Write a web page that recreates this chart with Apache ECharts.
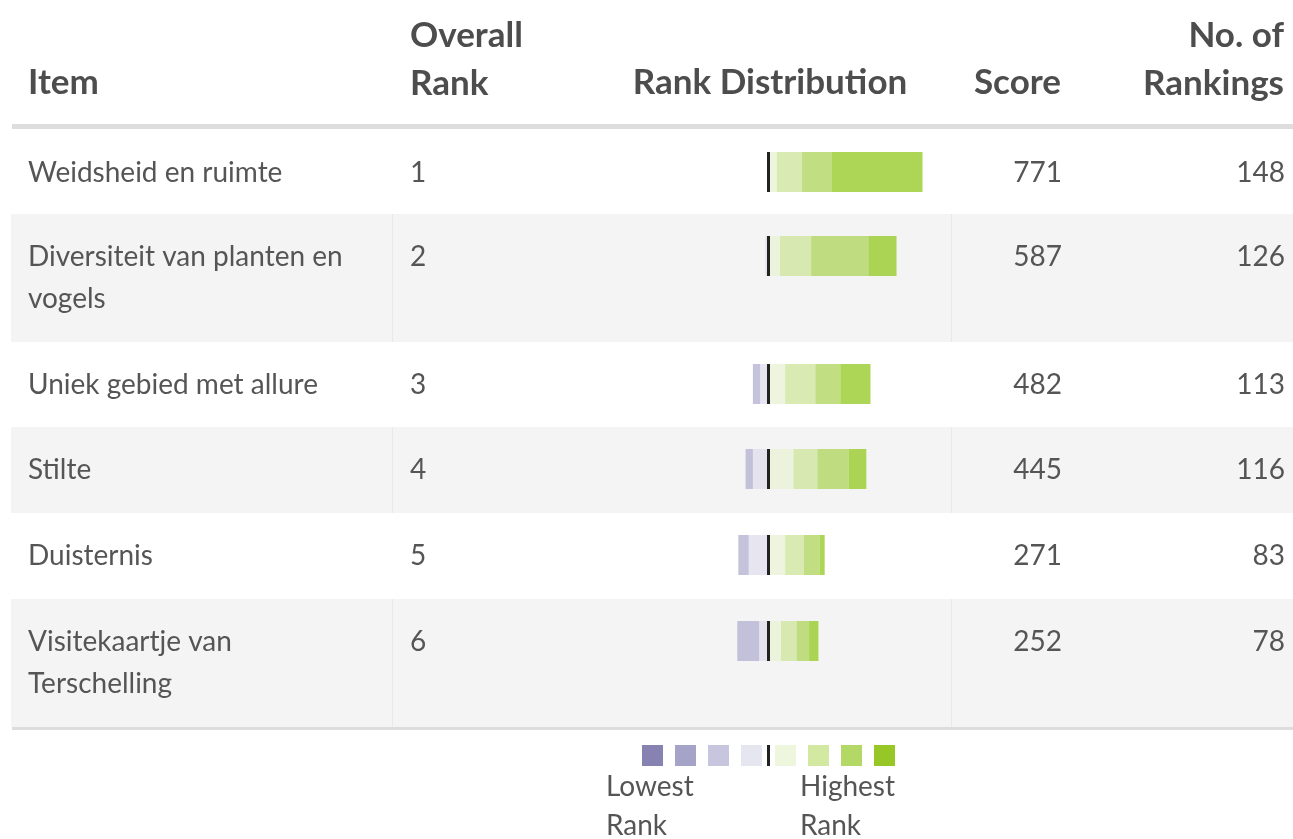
<!DOCTYPE html>
<html>
<head>
<meta charset="utf-8">
<script src="https://cdn.jsdelivr.net/npm/echarts@6/dist/echarts.min.js"></script>
<style>
  html, body { margin: 0; padding: 0; background: #fff; }
  #chart { width: 1293px; height: 839px; }
</style>
</head>
<body>
<div id="chart"></div>
<script>
// table data
const items = ['Weidsheid en ruimte', 'Diversiteit van planten en\nvogels', 'Uniek gebied met allure', 'Stilte', 'Duisternis', 'Visitekaartje van\nTerschelling']
const overallRank = [1, 2, 3, 4, 5, 6]
const scores = [771, 587, 482, 445, 271, 252]
const rankings = [148, 126, 113, 116, 83, 78]

// number of rankings per rank level (lowest -> highest)
const lowest1 = [0, 0, 0, 0, 0, 0]
const lowest2 = [0, 0, 0, 0, 0, 0]
const lowest3 = [0, 0, 7, 7, 10, 21]
const lowest4 = [0, 3, 8, 15, 19, 9]
const highest4 = [8, 11, 16, 24, 16, 12]
const highest3 = [24, 30, 29, 23, 18, 15]
const highest2 = [29, 55, 24, 30, 15, 12]
const highest1 = [87, 27, 29, 17, 5, 9]

const levels = [lowest1, lowest2, lowest3, lowest4, highest4, highest3, highest2, highest1]
const legendColors = ['#8683b3', '#a5a3c7', '#c8c6de', '#e6e6f1', '#eef6de', '#d3e8a0', '#b3d866', '#97c726']
const barColors = ['#8683b3', '#a5a3c7', '#b6b4d3', '#e0dfec', '#e8f2d7', '#cfe59f', '#b3d664', '#9acc2c']

// layout
const rowTop = [130, 214, 342, 427, 513, 599]
const rowHeight = [84, 128, 85, 86, 86, 128]
const textColor = '#555'
const font = 'Lato'

const grids = []
const xAxes = []
const yAxes = []
const series = []
const graphics = []

// row backgrounds
rowTop.forEach((top, r) => {
  if (r % 2 === 1) {
    graphics.push({ type: 'rect', z: 0, shape: { x: 11, y: top, width: 1282, height: rowHeight[r] }, style: { fill: '#f4f4f4' } })
    graphics.push({ type: 'rect', z: 1, shape: { x: 392, y: top, width: 1, height: rowHeight[r] }, style: { fill: '#e9e9e9' } })
    graphics.push({ type: 'rect', z: 1, shape: { x: 951, y: top, width: 1, height: rowHeight[r] }, style: { fill: '#e9e9e9' } })
  }
})
graphics.push({ type: 'rect', z: 1, shape: { x: 12, y: 124, width: 1281, height: 5 }, style: { fill: '#dddddd' } })
graphics.push({ type: 'rect', z: 1, shape: { x: 12, y: 727, width: 1281, height: 3 }, style: { fill: '#dddddd' } })

// header
const headStyle = { font: 'bold 35px ' + font, fill: '#4d4d4d', lineHeight: 48 }
graphics.push({ type: 'text', z: 10, style: Object.assign({ text: 'Item', x: 28, y: 83, textAlign: 'left', textVerticalAlign: 'middle' }, headStyle) })
graphics.push({ type: 'text', z: 10, style: Object.assign({ text: 'Overall\nRank', x: 410, y: 60, textAlign: 'left', textVerticalAlign: 'middle' }, headStyle) })
graphics.push({ type: 'text', z: 10, style: Object.assign({ text: 'Rank Distribution', x: 770, y: 83, textAlign: 'center', textVerticalAlign: 'middle' }, headStyle) })
graphics.push({ type: 'text', z: 10, style: Object.assign({ text: 'Score', x: 1061, y: 83, textAlign: 'right', textVerticalAlign: 'middle' }, headStyle) })
graphics.push({ type: 'text', z: 10, style: Object.assign({ text: 'No. of\nRankings', x: 1284, y: 60, textAlign: 'right', textVerticalAlign: 'middle' }, headStyle) })

// body text
const cellStyle = { font: '28px ' + font, fill: textColor, lineHeight: 42, textVerticalAlign: 'top' }
items.forEach((name, r) => {
  const y = rowTop[r] + 22
  graphics.push({ type: 'text', z: 10, style: Object.assign({ text: name, x: 28, y: y, textAlign: 'left' }, cellStyle) })
  graphics.push({ type: 'text', z: 10, style: Object.assign({ text: String(overallRank[r]), x: 410, y: y, textAlign: 'left' }, cellStyle) })
  graphics.push({ type: 'text', z: 10, style: Object.assign({ text: String(scores[r]), x: 1062, y: y, textAlign: 'right' }, cellStyle) })
  graphics.push({ type: 'text', z: 10, style: Object.assign({ text: String(rankings[r]), x: 1285, y: y, textAlign: 'right' }, cellStyle) })

  // one small grid per row for the diverging bar
  grids.push({ left: 602, width: 333, top: rowTop[r] + 22, height: 40 })
  xAxes.push({ gridIndex: r, type: 'value', min: -160, max: 160, show: false })
  yAxes.push({ gridIndex: r, type: 'category', data: [name], show: false })

  // purple stacks leftwards from centre, green rightwards
  ;[3, 2, 1, 0, 4, 5, 6, 7].forEach(k => {
    const sign = k < 4 ? -1 : 1
    series.push({
      type: 'bar',
      xAxisIndex: r,
      yAxisIndex: r,
      stack: 'row' + r,
      barWidth: 40,
      silent: true,
      itemStyle: { color: barColors[k], opacity: 0.8 },
      data: [sign * levels[k][r]]
    })
  })
  series.push({
    type: 'scatter',
    xAxisIndex: r,
    yAxisIndex: r,
    symbol: 'rect',
    symbolSize: [3, 40],
    silent: true,
    z: 5,
    itemStyle: { color: '#222', opacity: 1 },
    data: [[0, 0]]
  })
})

// legend swatches
legendColors.forEach((c, k) => {
  const x = 642 + k * 33 + (k >= 4 ? 1 : 0)
  graphics.push({ type: 'rect', z: 10, shape: { x: x, y: 745, width: 21, height: 21 }, style: { fill: c } })
})
graphics.push({ type: 'rect', z: 10, shape: { x: 767, y: 745, width: 3, height: 21 }, style: { fill: '#222' } })
const legendText = { font: '28px ' + font, fill: textColor, lineHeight: 39, textAlign: 'left', textVerticalAlign: 'top' }
graphics.push({ type: 'text', z: 10, style: Object.assign({ text: 'Lowest\nRank', x: 606, y: 767 }, legendText) })
graphics.push({ type: 'text', z: 10, style: Object.assign({ text: 'Highest\nRank', x: 800, y: 767 }, legendText) })

const myChart = echarts.init(document.getElementById('chart'))
myChart.setOption({
  animation: false,
  backgroundColor: '#fff',
  grid: grids,
  xAxis: xAxes,
  yAxis: yAxes,
  graphic: graphics,
  series: series
})
</script>
</body>
</html>
